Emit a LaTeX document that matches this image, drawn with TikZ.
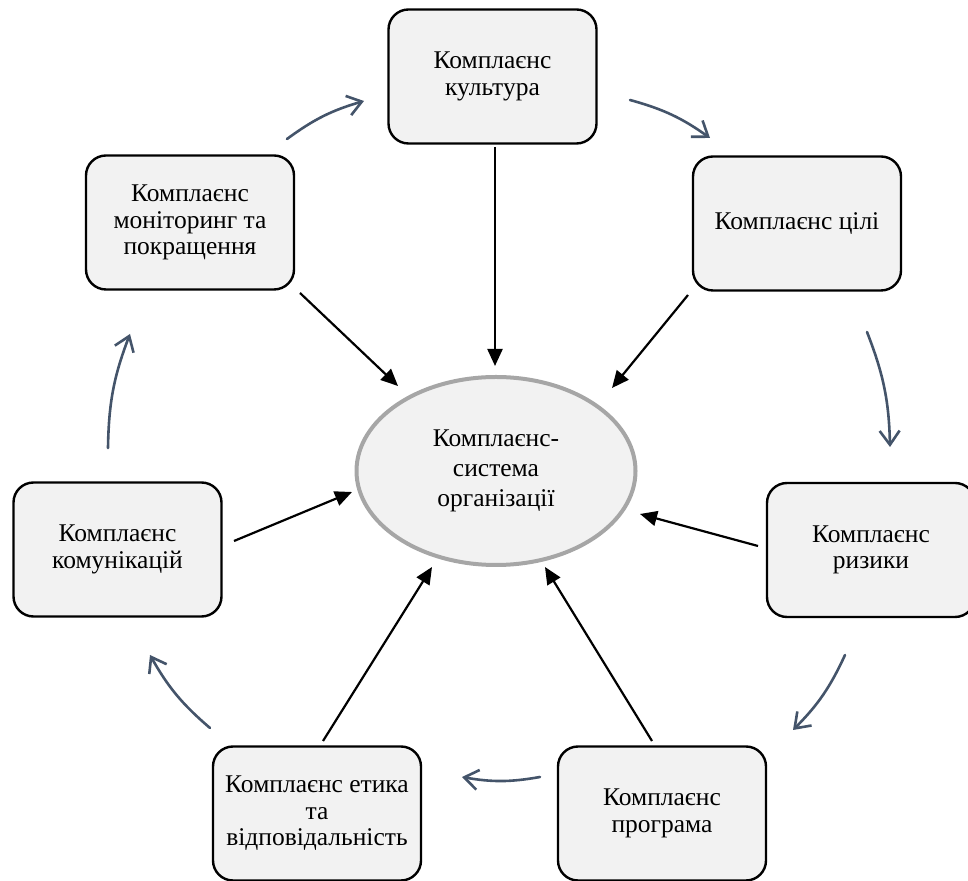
\documentclass[tikz,border=0pt]{standalone}
\usepackage{fontspec}
\setmainfont{Liberation Serif}
\usetikzlibrary{arrows.meta,shapes.geometric}
\definecolor{slate}{HTML}{44546A}
\definecolor{boxfill}{HTML}{F2F2F2}
\definecolor{ellgray}{HTML}{A6A6A6}
\tikzset{
  box/.style={draw=black, line width=2.4pt, fill=boxfill, rounded corners=20pt,
    inner sep=0pt, minimum width=208pt, minimum height=134pt, align=center,
    font=\fontsize{25.5}{26.5}\selectfont},
  centre/.style={ellipse, draw=ellgray, line width=4pt, fill=boxfill, inner sep=0pt,
    minimum width=279pt, minimum height=188pt, align=center,
    font=\fontsize{25.5}{30}\selectfont},
  inarrow/.style={draw=black, line width=2.2pt, -{Triangle[length=17pt,width=15pt]}},
  cyclearrow/.style={draw=slate, line width=2.6pt, line cap=round,
    -{Straight Barb[length=14pt,width=20pt,line width=2.6pt]}, bend left=10}
}
\begin{document}
\begin{tikzpicture}[x=1pt,y=1pt]
\useasboundingbox (0,0) rectangle (968,880);
% nodes
\node[centre] (ell) at (496,409) {Комплаєнс-\\система\\організації};
\node[box] (cult) at (492.5,803.5) {Комплаєнс\\культура};
\node[box] (mon)  at (190,657.5) {Комплаєнс\\моніторинг та\\покращення};
\node[box] (goal) at (797,656.5) {Комплаєнс цілі};
\node[box] (comm) at (117.5,330.5) {Комплаєнс\\комунікацій};
\node[box] (risk) at (871,330) {Комплаєнс\\ризики};
\node[box] (eth)  at (317,66.5) {Комплаєнс етика\\та\\відповідальність};
\node[box] (prog) at (662,66.5) {Комплаєнс\\програма};
% straight arrows: start and tip points
\coordinate (s1) at (495,733); \coordinate (t1) at (495,514);
\coordinate (s2) at (300,587); \coordinate (t2) at (398,494);
\coordinate (s3) at (688,585); \coordinate (t3) at (612,492);
\coordinate (s4) at (234,339); \coordinate (t4) at (352,388);
\coordinate (s5) at (758,334); \coordinate (t5) at (640,366);
\coordinate (s6) at (323,139); \coordinate (t6) at (432,313);
\coordinate (s7) at (652,139); \coordinate (t7) at (545,313);
\draw[inarrow] (s1) -- (t1);
\draw[inarrow] (s2) -- (t2);
\draw[inarrow] (s3) -- (t3);
\draw[inarrow] (s4) -- (t4);
\draw[inarrow] (s5) -- (t5);
\draw[inarrow] (s6) -- (t6);
\draw[inarrow] (s7) -- (t7);
% cycle arrows
\coordinate (ca1) at (287,741); \coordinate (ca2) at (364,779);
\coordinate (cb1) at (630,780); \coordinate (cb2) at (710,742);
\coordinate (cc1) at (867,548); \coordinate (cc2) at (890,433);
\coordinate (cd1) at (845,225); \coordinate (cd2) at (793,150);
\coordinate (ce1) at (540,103); \coordinate (ce2) at (462,103);
\coordinate (cf1) at (210,152); \coordinate (cf2) at (150,225);
\coordinate (cg1) at (108,432); \coordinate (cg2) at (130,546);
\draw[cyclearrow] (ca1) to (ca2);
\draw[cyclearrow] (cb1) to (cb2);
\draw[cyclearrow] (cc1) to (cc2);
\draw[cyclearrow] (cd1) to (cd2);
\draw[cyclearrow] (ce1) to (ce2);
\draw[cyclearrow] (cf1) to (cf2);
\draw[cyclearrow] (cg1) to (cg2);
\end{tikzpicture}
\end{document}
